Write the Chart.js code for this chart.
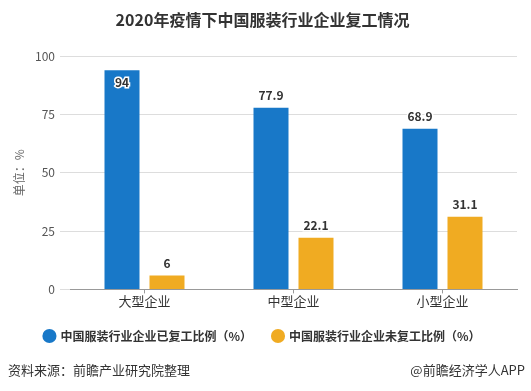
<!DOCTYPE html>
<html>
<head>
<meta charset="utf-8">
<script src="https://cdn.jsdelivr.net/npm/chart.js@4/dist/chart.umd.min.js"></script>
<style>
  html, body { margin: 0; padding: 0; background: #fff; }
  #wrap { position: relative; width: 531px; height: 391px; }
  .foot { position: absolute; top: 360px; font: 13px "Noto Sans CJK SC", sans-serif; color: #333; }
</style>
</head>
<body>
<div id="wrap">
  <canvas id="grafica" width="531" height="391"></canvas>
  <div class="foot" style="left:8px">资料来源：前瞻产业研究院整理</div>
  <div class="foot" style="right:6px">@前瞻经济学人APP</div>
</div>
<script>
var categorias = ['大型企业', '中型企业', '小型企业'];
var yaFuGong = [94, 77.9, 68.9];
var weiFuGong = [6, 22.1, 31.1];
var nombres = ['中国服装行业企业已复工比例（%）', '中国服装行业企业未复工比例（%）'];
var ticksY = [0, 25, 50, 75, 100];

var fuente = '"Noto Sans CJK SC", "Noto Sans", sans-serif';

// etiquetas de valores encima de cada barra
var etiquetas = {
    id: 'etiquetas',
    afterDatasetsDraw: function(chart) {
        var ctx = chart.ctx;
        var area = chart.chartArea;
        ctx.save();
        ctx.font = 'bold 12px ' + fuente;
        ctx.textAlign = 'center';
        ctx.textBaseline = 'middle';
        chart.data.datasets.forEach(function(ds, i) {
            chart.getDatasetMeta(i).data.forEach(function(bar, j) {
                var y = bar.y - 12;
                if (y < area.top + 14) {
                    y = bar.y + 12;
                }
                ctx.lineWidth = 3;
                ctx.strokeStyle = '#fff';
                ctx.strokeText(String(ds.data[j]), bar.x, y);
                ctx.fillStyle = '#333';
                ctx.fillText(String(ds.data[j]), bar.x, y);
            });
        });
        ctx.restore();
    }
};

var ctx = document.getElementById('grafica').getContext('2d');
var grafica = new Chart(ctx, {
    type: 'bar',
    data: {
        labels: categorias,
        datasets: [{
            label: nombres[0],
            data: yaFuGong,
            backgroundColor: '#1878c8',
            categoryPercentage: 0.604,
            barPercentage: 0.778
        }, {
            label: nombres[1],
            data: weiFuGong,
            backgroundColor: '#f0ab22',
            categoryPercentage: 0.604,
            barPercentage: 0.778
        }]
    },
    options: {
        responsive: false,
        animation: false,
        layout: { padding: { left: 8, right: 14, top: 0, bottom: 39 } },
        plugins: {
            title: {
                display: true,
                text: '2020年疫情下中国服装行业企业复工情况',
                color: '#333',
                font: { family: fuente, size: 16, weight: 'bold' },
                padding: { top: 10, bottom: 27 }
            },
            legend: {
                position: 'bottom',
                labels: {
                    usePointStyle: true,
                    pointStyle: 'circle',
                    boxWidth: 10,
                    boxHeight: 10,
                    padding: 21,
                    color: '#333',
                    font: { family: fuente, size: 12, weight: 'bold' }
                }
            },
            tooltip: { enabled: false }
        },
        scales: {
            x: {
                grid: {
                    offset: false,
                    drawOnChartArea: false,
                    drawTicks: true,
                    tickLength: 4,
                    color: '#999'
                },
                border: { color: '#999' },
                ticks: {
                    color: '#333',
                    padding: 0,
                    font: { family: fuente, size: 13 }
                }
            },
            y: {
                min: 0,
                max: 100,
                afterBuildTicks: function(scale) {
                    scale.ticks = ticksY.map(function(v) { return { value: v }; });
                },
                afterFit: function(scale) { scale.width = 62; },
                grid: { color: '#ddd', tickLength: 10 },
                border: { display: false },
                ticks: {
                    color: '#555',
                    padding: 5,
                    font: { family: fuente, size: 12 }
                },
                title: {
                    display: true,
                    text: '单位：%',
                    color: '#666',
                    padding: { top: 4, bottom: 0 },
                    font: { family: fuente, size: 12 }
                }
            }
        }
    },
    plugins: [etiquetas]
});
</script>
</body>
</html>
